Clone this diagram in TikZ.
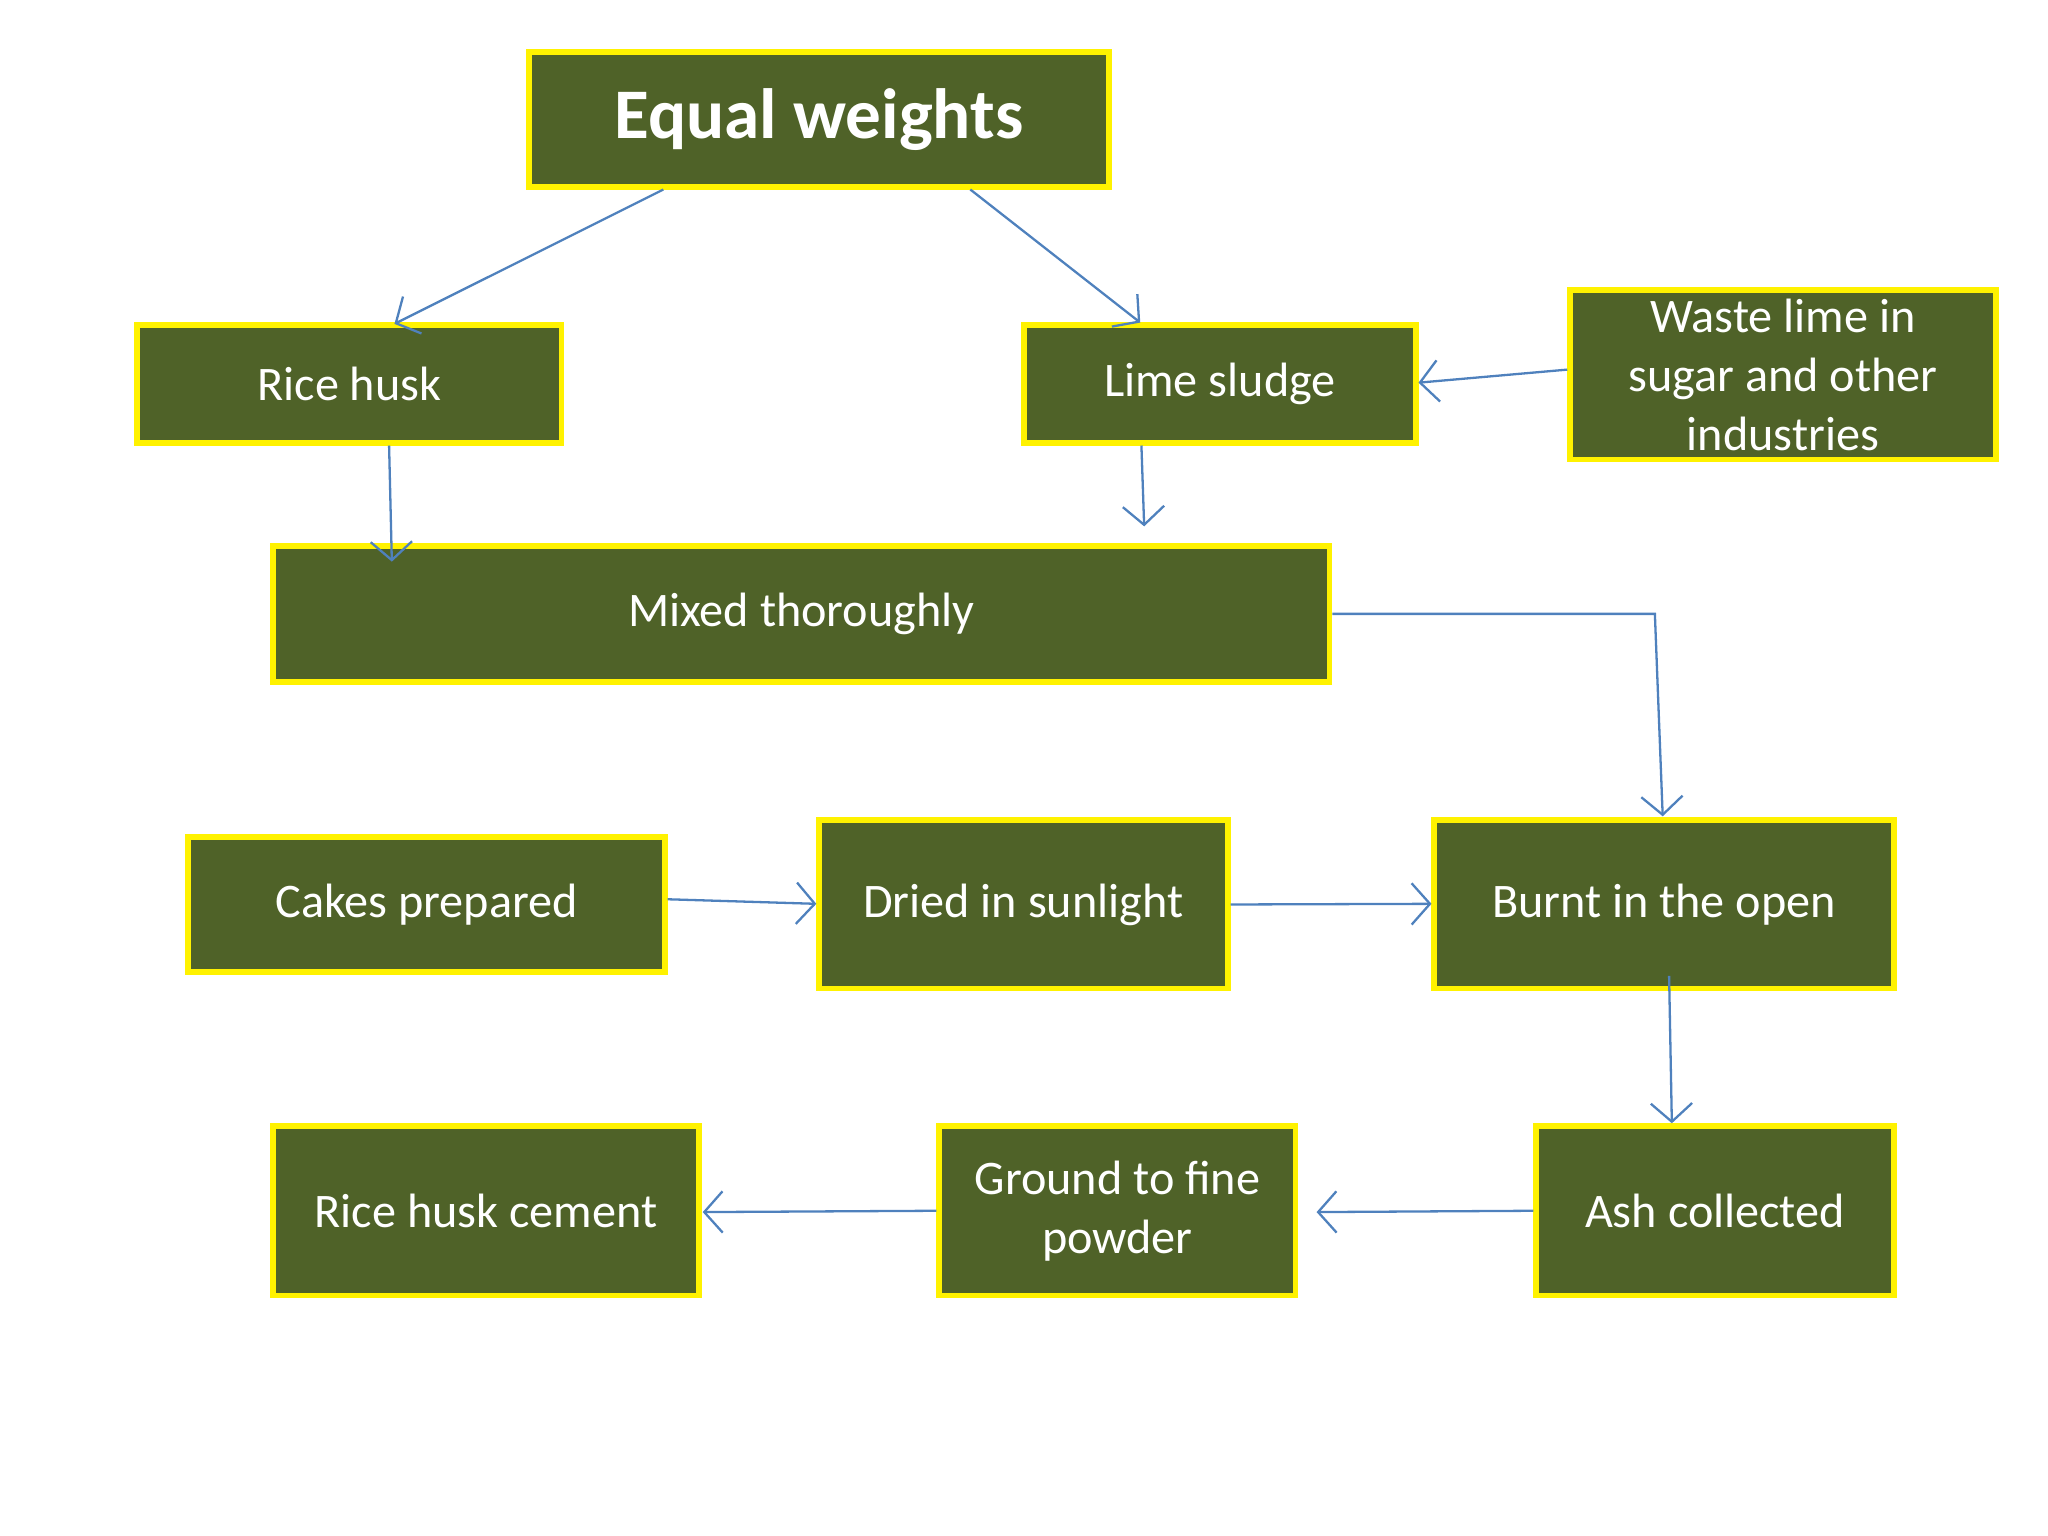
\documentclass[tikz,border=0pt]{standalone}
\usepackage{fontspec}
\setmainfont{Carlito}
\usetikzlibrary{arrows.meta}
\definecolor{boxgreen}{HTML}{4F6228}
\definecolor{arr}{HTML}{4F81BD}
\tikzset{
 box/.style={draw=yellow,line width=1.2pt,fill=boxgreen,text=white,font=\fontsize{10.5}{12.8}\selectfont,align=center,inner sep=0pt},
 con/.style={draw=arr,line width=0.5pt,-{Straight Barb[length=4pt,width=9pt]}}
}
\begin{document}
\begin{tikzpicture}[x=1cm,y=1cm]
\useasboundingbox (0,0) rectangle (15.68,-11.76);
\def\bx#1#2#3#4#5#6{\node[box,minimum width=#4cm-#2cm,minimum height=#5cm-#3cm] (#1) at ({(#2+#4)/2},{-(#3+#5)/2}) {#6};}
\bx{eq}{4.05}{0.40}{8.49}{1.43}{\fontsize{15.5}{18}\selectfont\bfseries Equal weights}
\bx{rh}{1.05}{2.49}{4.30}{3.39}{Rice husk}
\bx{ls}{7.84}{2.49}{10.84}{3.39}{Lime sludge}
\bx{wl}{12.02}{2.22}{15.28}{3.52}{Waste lime in\\sugar and other\\industries}
\bx{mx}{2.09}{4.18}{10.18}{5.22}{Mixed thoroughly}
\bx{ck}{1.44}{6.41}{5.09}{7.44}{Cakes prepared}
\bx{dr}{6.27}{6.28}{9.40}{7.57}{Dried in sunlight}
\bx{bu}{10.98}{6.28}{14.50}{7.57}{Burnt in the open}
\bx{as}{11.76}{8.62}{14.50}{9.92}{Ash collected}
\bx{gr}{7.19}{8.62}{9.92}{9.92}{Ground to fine\\powder}
\bx{rc}{2.09}{8.62}{5.35}{9.92}{Rice husk cement}
\coordinate (e1) at (3.02,-2.48);
\coordinate (e2) at (8.73,-2.47);
\coordinate (e3) at (10.86,-2.93);
\coordinate (e4) at (3.00,-4.30);
\coordinate (e5) at (8.76,-4.03);
\coordinate (k1) at (12.67,-4.70);
\coordinate (e6) at (12.73,-6.25);
\coordinate (e7) at (6.25,-6.92);
\coordinate (e8) at (10.96,-6.92);
\coordinate (e9) at (12.80,-8.60);
\coordinate (e10) at (10.08,-9.28);
\coordinate (e11) at (5.38,-9.28);
\draw[con] (eq.south west)++(1.05,0) -- (e1);
\draw[con] (eq.south west)++(3.40,0) -- (e2);
\draw[con] (wl.west) ++(0,0.04) -- (e3);
\draw[con] (rh.south west)++(1.95,0) -- (e4);
\draw[con] (ls.south west)++(0.92,0) -- (e5);
\draw[con] (mx.east)++(0,0.00) -- (k1) -- (e6);
\draw[con] (ck.east)++(0,0.04) -- (e7);
\draw[con] (dr.east) -- (e8);
\draw[con] (bu.south west)++(1.82,0.12) -- (e9);
\draw[con] (as.west) -- (e10);
\draw[con] (gr.west) -- (e11);
\end{tikzpicture}
\end{document}
